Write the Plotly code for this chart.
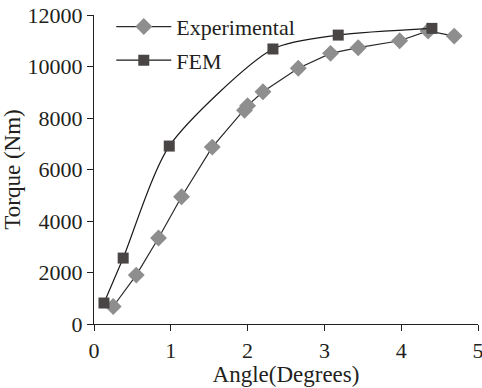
import plotly.graph_objects as go

exp_angle = [0.25, 0.55, 0.84, 1.14, 1.54, 1.96, 2.00, 2.20, 2.66, 3.08, 3.44, 3.98, 4.35, 4.69]
exp_torque = [680, 1900, 3340, 4940, 6870, 8300, 8480, 9020, 9930, 10510, 10730, 11000, 11380, 11180]

fem_angle = [0.13, 0.38, 0.98, 2.33, 3.18, 4.40]
fem_torque = [815, 2560, 6910, 10680, 11220, 11480]

x_ticks = [0, 1, 2, 3, 4, 5]
y_ticks = [0, 2000, 4000, 6000, 8000, 10000, 12000]
y_tick_labels = ["0", "2000", "4000", "6000", "8000", "10000", "12000"]

FONT = "Liberation Serif, Times New Roman, serif"
INK = "#231f20"

fig = go.Figure()
fig.add_trace(go.Scatter(
    x=exp_angle, y=exp_torque, mode="lines+markers", name="Experimental",
    line=dict(color="#2a2a2a", width=1.2),
    marker=dict(symbol="diamond", size=13, color="#8e8e8e", line=dict(width=0)),
    legendgroup="a",
))
fig.add_trace(go.Scatter(
    x=fem_angle, y=fem_torque, mode="lines+markers", name="FEM",
    line=dict(color="#1a1a1a", width=1.2, shape="spline", smoothing=0.7),
    marker=dict(symbol="square", size=11, color="#4a4545", line=dict(width=0)),
    legendgroup="b",
))

fig.update_layout(
    width=482, height=388,
    margin=dict(l=94, r=4, t=15, b=64),
    paper_bgcolor="white", plot_bgcolor="white",
    font=dict(family=FONT, size=19, color=INK),
    showlegend=True,
    legend=dict(x=0.045, y=1.03, xanchor="left", yanchor="top",
                bgcolor="rgba(0,0,0,0)", font=dict(size=22, color=INK),
                itemwidth=55, borderwidth=0,
                tracegroupgap=2, traceorder="grouped"),
    xaxis=dict(range=[0, 5], tickvals=x_ticks, showline=True, linecolor=INK,
               linewidth=1.2, ticks="outside", ticklen=6, tickcolor=INK,
               tickfont=dict(size=22, color=INK), ticklabeloverflow="allow",
               showgrid=False, zeroline=False, automargin=False,
               title=dict(text="Angle(Degrees)", standoff=0, font=dict(size=23, color=INK))),
    yaxis=dict(range=[0, 12000], tickvals=y_ticks, ticktext=y_tick_labels,
               showline=True, linecolor=INK,
               linewidth=1.2, ticks="outside", ticklen=6, tickcolor=INK,
               tickfont=dict(size=22, color=INK),
               showgrid=False, zeroline=False, automargin=False,
               title=dict(text="Torque (Nm)", standoff=2, font=dict(size=23, color=INK))),
)

fig.write_html("out.html")
